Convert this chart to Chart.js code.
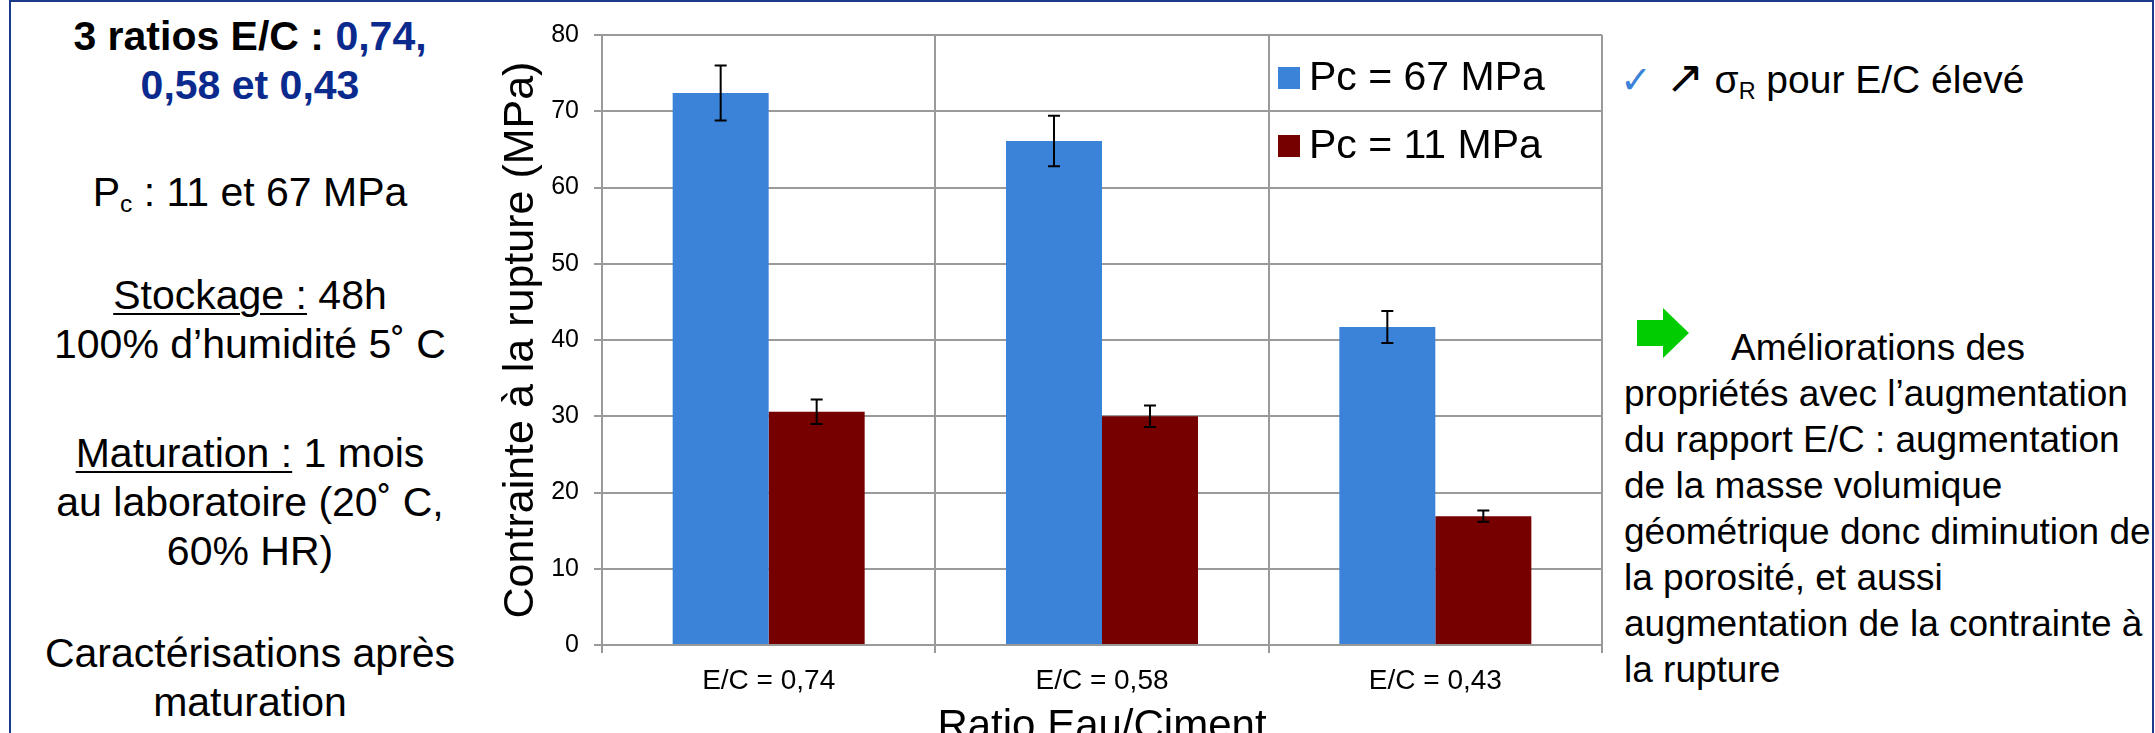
<!DOCTYPE html>
<html lang="fr">
<head>
<meta charset="utf-8">
<title>Contrainte à la rupture</title>
<script src="https://cdn.jsdelivr.net/npm/chart.js@4.4.0/dist/chart.umd.min.js"></script>
<style>
  html, body {
    margin: 0;
    width: 2155px;
    height: 733px;
    overflow: hidden;
    background: #fff;
    font-family: 'Liberation Sans', Arial, sans-serif;
    color: #000;
  }
  .frame {
    position: absolute;
    left: 9px;
    top: 0;
    right: 1px;
    height: 800px;
    border: 2px solid #1b3a8a;
    border-bottom: none;
  }
  .left p {
    position: absolute;
    left: 30px;
    width: 440px;
    margin: 0;
    text-align: center;
    font-size: 41px;
    line-height: 49px;
    white-space: nowrap;
  }
  .left b.blue { color: #0b2a8e; }
  .left u { text-decoration-thickness: 2px; text-underline-offset: 4px; }
  sub { font-size: 0.6em; vertical-align: -0.25em; line-height: 0; }
  #chart-box {
    position: absolute;
    left: 460px;
    top: 0;
    width: 1160px;
    height: 760px;
  }
  .top-note {
    position: absolute;
    left: 1620px;
    top: 52px;
    font-size: 39px;
    line-height: 50px;
    white-space: nowrap;
  }
  .top-note .check { color: #3b82d9; font-size: 38px; margin-right: 14px; }
  .top-note .up { font-family: 'DejaVu Sans', sans-serif; font-size: 46px; margin-right: 10px; }
  .green-arrow { position: absolute; left: 1637px; top: 308px; }
  .right-text {
    position: absolute;
    left: 1624px;
    top: 325px;
    font-size: 37px;
    line-height: 46px;
    white-space: nowrap;
  }
  .right-text .first { padding-left: 107px; }
</style>
</head>
<body>
<div class="frame"></div>

<div class="left">
  <p style="top:12px"><b>3 ratios E/C : <b class="blue">0,74,</b></b><br><b class="blue">0,58 et 0,43</b></p>
  <p style="top:168px">P<sub>c</sub> : 11 et 67 MPa</p>
  <p style="top:271px"><u>Stockage :</u> 48h<br>100% d’humidité 5˚ C</p>
  <p style="top:429px"><u>Maturation :</u> 1 mois<br>au laboratoire (20˚ C,<br>60% HR)</p>
  <p style="top:629px">Caractérisations après<br>maturation</p>
</div>

<div id="chart-box"><canvas id="chart" width="1160" height="760"></canvas></div>

<div class="top-note"><span class="check">✓</span><span class="up">↗</span>σ<sub>R</sub> pour E/C élevé</div>

<svg class="green-arrow" width="52" height="50" viewBox="0 0 52 50">
  <polygon points="0,12 26,12 26,0 52,25 26,50 26,38 0,38" fill="#00cc00"/>
</svg>
<div class="right-text">
  <span class="first">Améliorations des</span><br>
  propriétés avec l’augmentation<br>
  du rapport E/C : augmentation<br>
  de la masse volumique<br>
  géométrique donc diminution de<br>
  la porosité, et aussi<br>
  augmentation de la contrainte à<br>
  la rupture
</div>

<script>
// ---------- data ----------
const categories = ['E/C = 0,74', 'E/C = 0,58', 'E/C = 0,43'];
const seriesNames = ['Pc = 67 MPa', 'Pc = 11 MPa'];
const pc67 = [72.4, 66.1, 41.7];
const pc11 = [30.6, 30.0, 16.9];
const pc67Err = [3.6, 3.3, 2.1];
const pc11Err = [1.6, 1.4, 0.75];
const yTicks = [0, 10, 20, 30, 40, 50, 60, 70, 80];

const FONT = "'Liberation Sans', Arial, sans-serif";
const GRID = '#9a9a9a';

// ---------- error bars ----------
const errorBars = {
  id: 'errorBars',
  afterDatasetsDraw(chart) {
    const ctx = chart.ctx;
    const y = chart.scales.y;
    ctx.save();
    ctx.strokeStyle = '#000';
    ctx.lineWidth = 2;
    chart.data.datasets.forEach((ds, i) => {
      const meta = chart.getDatasetMeta(i);
      meta.data.forEach((bar, j) => {
        const v = ds.data[j];
        const e = ds.errors[j];
        const top = y.getPixelForValue(v + e);
        const bot = y.getPixelForValue(v - e);
        ctx.beginPath();
        ctx.moveTo(bar.x, top);
        ctx.lineTo(bar.x, bot);
        ctx.moveTo(bar.x - 6, top);
        ctx.lineTo(bar.x + 6, top);
        ctx.moveTo(bar.x - 6, bot);
        ctx.lineTo(bar.x + 6, bot);
        ctx.stroke();
      });
    });
    ctx.restore();
  }
};

// ---------- legend inside the plot ----------
const innerLegend = {
  id: 'innerLegend',
  afterDraw(chart) {
    const ctx = chart.ctx;
    const area = chart.chartArea;
    ctx.save();
    ctx.font = '41px ' + FONT;
    ctx.textBaseline = 'middle';
    chart.data.datasets.forEach((ds, i) => {
      const cy = area.top + 43 + i * 68;
      const x = area.right - 324;
      ctx.fillStyle = ds.backgroundColor;
      ctx.fillRect(x, cy - 11, 22, 22);
      ctx.fillStyle = '#000';
      ctx.fillText(ds.label, x + 31, cy + 1);
    });
    ctx.restore();
  }
};

new Chart(document.getElementById('chart'), {
  type: 'bar',
  data: {
    labels: categories,
    datasets: [
      { label: seriesNames[0], data: pc67, errors: pc67Err, backgroundColor: '#3b82d9' },
      { label: seriesNames[1], data: pc11, errors: pc11Err, backgroundColor: '#760000' }
    ]
  },
  options: {
    responsive: false,
    animation: false,
    events: [],
    layout: { padding: { top: 35, right: 18, left: 0, bottom: 0 } },
    datasets: { bar: { categoryPercentage: 0.576, barPercentage: 1.0 } },
    plugins: {
      legend: { display: false },
      tooltip: { enabled: false }
    },
    scales: {
      x: {
        afterFit(scale) { scale.height = 115; },
        grid: { color: GRID, lineWidth: 2, tickLength: 8, offset: true },
        border: { color: GRID, width: 2 },
        ticks: { color: '#000', font: { family: FONT, size: 28 }, padding: 11, maxRotation: 0 },
        title: {
          display: true,
          text: 'Ratio Eau/Ciment',
          color: '#000',
          font: { family: FONT, size: 42 },
          padding: { top: 0, bottom: 7 }
        }
      },
      y: {
        min: 0,
        max: 80,
        afterFit(scale) { scale.width = 142; },
        afterBuildTicks(scale) { scale.ticks = yTicks.map(v => ({ value: v })); },
        grid: { color: GRID, lineWidth: 2, tickLength: 8 },
        border: { color: GRID, width: 2 },
        ticks: { color: '#000', font: { family: FONT, size: 25 }, padding: 15 },
        title: {
          display: true,
          text: 'Contrainte à la rupture (MPa)',
          color: '#000',
          font: { family: FONT, size: 43 },
          padding: { top: 35, bottom: 0 }
        }
      }
    }
  },
  plugins: [errorBars, innerLegend]
});
</script>
</body>
</html>
